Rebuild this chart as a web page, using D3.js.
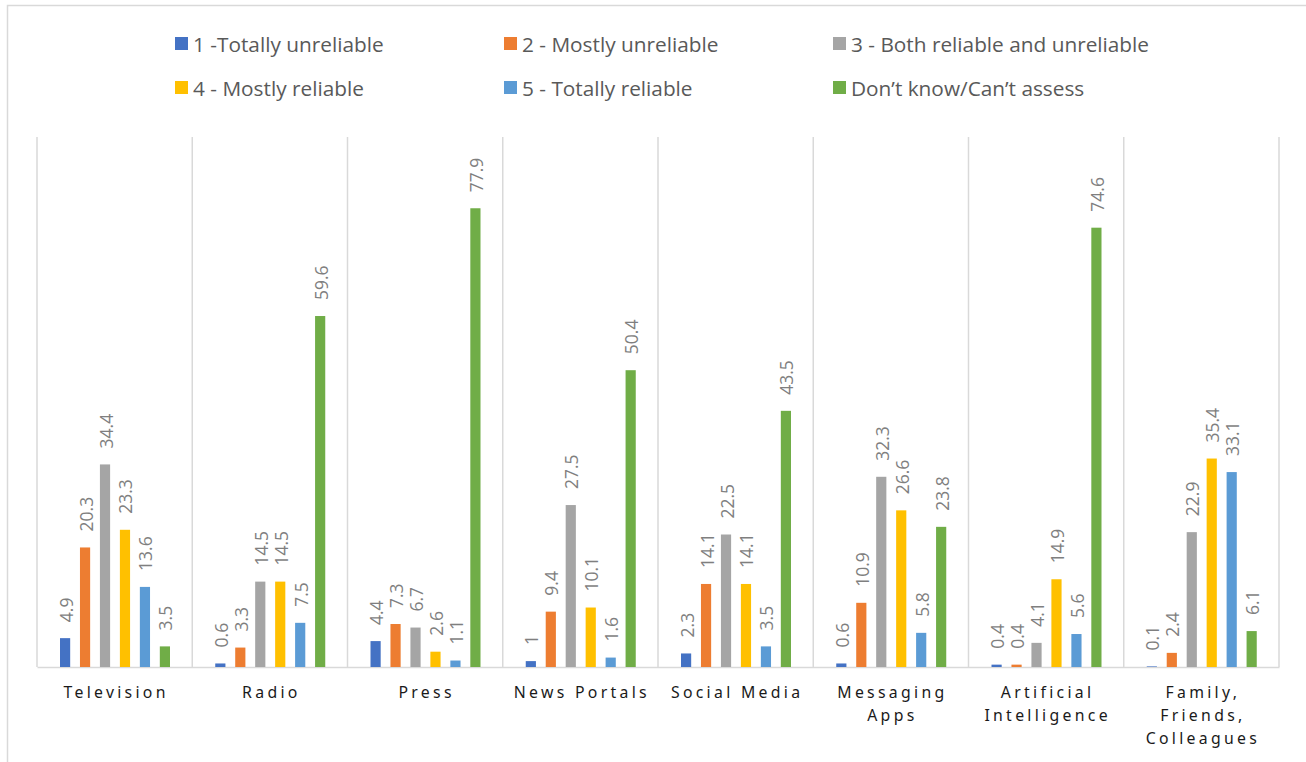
<!DOCTYPE html>
<html><head><meta charset="utf-8">
<script src="https://cdn.jsdelivr.net/npm/d3@7"></script>
<style>
html,body{margin:0;padding:0;background:#fff;}
svg{display:block;font-family:"Open Sans","Noto Sans",sans-serif;}
</style></head>
<body><svg id="chart" width="1306" height="762"></svg>
<script>
const categories = [
  ["Television"], ["Radio"], ["Press"], ["News Portals"], ["Social Media"],
  ["Messaging", "Apps"], ["Artificial", "Intelligence"], ["Family,", "Friends,", "Colleagues"]
];
const seriesNames = ["1 -Totally unreliable", "2 - Mostly unreliable", "3 - Both reliable and unreliable",
  "4 - Mostly reliable", "5 - Totally reliable", "Don\u2019t know/Can\u2019t assess"];
const seriesColors = ["#4472C4", "#ED7D31", "#A5A5A5", "#FFC000", "#5B9BD5", "#70AD47"];
const totallyUnreliable = [4.9, 0.6, 4.4, 1, 2.3, 0.6, 0.4, 0.1];
const mostlyUnreliable  = [20.3, 3.3, 7.3, 9.4, 14.1, 10.9, 0.4, 2.4];
const bothReliable      = [34.4, 14.5, 6.7, 27.5, 22.5, 32.3, 4.1, 22.9];
const mostlyReliable    = [23.3, 14.5, 2.6, 10.1, 14.1, 26.6, 14.9, 35.4];
const totallyReliable   = [13.6, 7.5, 1.1, 1.6, 3.5, 5.8, 5.6, 33.1];
const dontKnow          = [3.5, 59.6, 77.9, 50.4, 43.5, 23.8, 74.6, 6.1];
const seriesValues = [totallyUnreliable, mostlyUnreliable, bothReliable, mostlyReliable, totallyReliable, dontKnow];

const svg = d3.select("#chart");
// outer frame
svg.append("rect").attr("x", 7.5).attr("y", 5.5).attr("width", 1320).attr("height", 800)
  .attr("fill", "none").attr("stroke", "#d9d9d9").attr("stroke-width", 1.5);

const pLeft = 37, pRight = 1279, pTop = 137, pBottom = 667;
const catIdx = categories.map((d, i) => i);
const x0 = d3.scaleBand().domain(catIdx).range([pLeft, pRight]).paddingInner(0).paddingOuter(0);
const x1 = d3.scaleBand().domain(d3.range(seriesNames.length)).range([23, 133]).paddingInner(0.49).paddingOuter(0);
const y = d3.scaleLinear().domain([0, 90]).range([pBottom, pTop]);

// vertical grid lines at category boundaries
const bounds = catIdx.map(i => x0(i)).concat([pRight]);
svg.append("g").selectAll("line").data(bounds).join("line")
  .attr("x1", d => d).attr("x2", d => d).attr("y1", pTop).attr("y2", pBottom)
  .attr("stroke", "#d9d9d9").attr("stroke-width", 1.5);

// baseline axis
const xAxis = d3.axisBottom(x0).tickSize(0).tickFormat("");
const ax = svg.append("g").attr("transform", `translate(0,${pBottom})`).call(xAxis);
ax.select(".domain").attr("stroke", "#d9d9d9").attr("stroke-width", 1.5);

// category labels
const labG = svg.append("g");
categories.forEach((lines, i) => {
  const cx = x0(i) + x0.bandwidth() / 2 + 1.5;
  const t = labG.append("text").attr("x", cx).attr("y", 698)
    .attr("text-anchor", "middle").attr("font-size", 15.8).attr("letter-spacing", 3.3)
    .attr("fill", "#1a1a1a").attr("font-family", "'Noto Sans', sans-serif");
  lines.forEach((ln, k) => t.append("tspan").attr("x", cx).attr("dy", k === 0 ? 0 : 23).text(ln));
});

// bars
const barsG = svg.append("g");
seriesValues.forEach((vals, s) => {
  const g = barsG.append("g");
  g.selectAll("rect").data(vals).join("rect")
    .attr("x", (d, i) => x0(i) + x1(s))
    .attr("y", d => y(d))
    .attr("width", x1.bandwidth())
    .attr("height", d => y(0) - y(d))
    .attr("fill", seriesColors[s]);
  g.selectAll("text").data(vals).join("text")
    .attr("transform", (d, i) => `translate(${x0(i) + x1(s) + x1.bandwidth() / 2 + 7.5},${y(d) - 16}) rotate(-90)`)
    .attr("text-anchor", "start").attr("font-size", 17.5).attr("fill", "#7f7f7f")
    .text(d => d);
});

// legend
const legCols = [175, 504, 833];
const legRows = [44, 88];
const leg = svg.append("g");
seriesNames.forEach((name, i) => {
  const cx = legCols[i % 3], cy = legRows[Math.floor(i / 3)];
  leg.append("rect").attr("x", cx).attr("y", cy - 7).attr("width", 13).attr("height", 13).attr("fill", seriesColors[i]);
  leg.append("text").attr("x", cx + 18).attr("y", cy + 7.5).attr("font-size", 20.8).attr("fill", "#595959").text(name);
});
</script></body></html>
